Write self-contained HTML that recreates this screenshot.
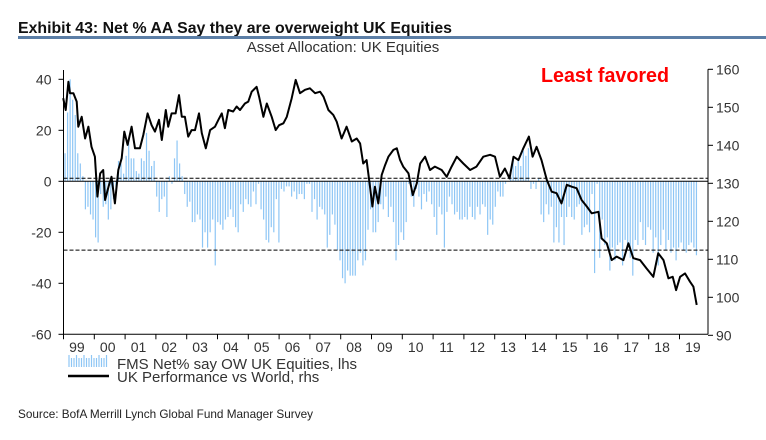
<!DOCTYPE html>
<html><head><meta charset="utf-8"><style>
html,body{margin:0;padding:0;background:#fff;}
svg{display:block;}
text{font-family:"Liberation Sans",sans-serif;}
</style></head><body>
<svg id="chart" width="766" height="440" viewBox="0 0 766 440">
<text x="18" y="33" font-size="16" font-weight="bold" fill="#111" textLength="434" lengthAdjust="spacingAndGlyphs">Exhibit 43: Net % AA Say they are overweight UK Equities</text>
<rect x="18" y="36" width="748" height="3" fill="#5b7ea6"/>
<text x="343" y="52" font-size="15" fill="#333" text-anchor="middle">Asset Allocation: UK Equities</text>
<text x="541" y="82" font-size="20" font-weight="bold" fill="#ff0000" textLength="128" lengthAdjust="spacingAndGlyphs">Least favored</text>
<g id="plot"></g>
<g>
<g>
<g id="legicon"></g>
<text x="117" y="369" font-size="15" fill="#333">FMS Net% say OW UK Equities, lhs</text>
</g>
<g>
<line x1="68" y1="376" x2="109" y2="376" stroke="#000" stroke-width="2.5"/>
<text x="117" y="382" font-size="15" fill="#333">UK Performance vs World, rhs</text>
</g>
</g>
<text x="18" y="418" font-size="12" fill="#222" textLength="295" lengthAdjust="spacingAndGlyphs">Source:  BofA Merrill Lynch Global Fund Manager Survey</text>
</svg>
<script>
const yearLabels=["99","00","01","02","03","04","05","06","07","08","09","10","11","12","13","14","15","16","17","18","19"];
const lhsTicks=[40,20,0,-20,-40,-60];
const rhsTicks=[160,150,140,130,120,110,100,90];
const dashedLevels=[1.2,-27];
const barStart=1999.05, barEnd=2019.55;
const fmsBars=[11,27,40,32,26,11,7,2,-11,-10,-13,-15,-22,-24,-5,-10,-9,-15,-11,-7,-4,8,7,3,10,15,9,9,4,3,9,8,19,12,6,8,-6,-12,-7,-6,-14,2,-1,9,16,7,2,-5,-10,-8,-16,-16,-13,-15,-26,-20,-26,-20,-15,-33,-16,-17,-19,-15,-14,-11,-14,-18,-20,-9,-12,-7,-9,-10,-4,-9,-1,-11,-15,-23,-24,-18,-20,-7,-24,-3,-4,-2,-2,-6,-4,-7,-5,-5,-7,-1,-1,-12,-7,-15,-10,-11,-13,-26,-21,-13,-17,-27,-31,-38,-40,-35,-37,-37,-37,-31,-28,-33,-31,-19,-11,-20,
-20,-16,-9,-11,-6,-14,-10,-16,-31,-25,-20,-23,-16,-1,-6,-10,-3,-6,-11,-5,-8,-4,-9,-14,-21,-10,-13,-26,-12,-6,-9,-13,-12,-15,-15,-14,-15,-10,-14,-15,-10,-13,-9,-10,-21,-15,-17,-10,-4,-6,-6,-1,0,4,9,6,8,6,12,10,13,-3,-1,-3,1,-13,-16,-9,-13,-10,-24,-18,-24,-14,-25,-14,-10,-14,-15,-10,-9,-21,-18,-17,-20,-5,-36,-1,-30,-15,-25,-22,-35,-26,-31,-25,-24,-33,-23,-26,-30,-37,-23,-25,-16,-23,-25,-18,-19,-28,-22,-33,-25,-19,-27,-23,-28,-26,-31,-26,-24,-27,-28,-25,-24,-26,-29];
const perfDates=[1998.99,1999.07,1999.16,1999.21,1999.32,1999.43,1999.48,1999.59,1999.70,1999.81,1999.91,2000.02,2000.10,2000.19,2000.29,2000.35,2000.46,2000.56,2000.67,2000.78,2000.89,2000.975,2001.08,2001.21,2001.32,2001.48,2001.59,2001.73,2001.86,2001.97,2002.10,2002.19,2002.32,2002.40,2002.51,2002.64,2002.75,2002.84,2002.94,2003.05,2003.16,2003.27,2003.40,2003.49,2003.62,2003.76,2003.92,2004.03,2004.14,2004.24,2004.35,2004.51,2004.62,2004.73,2004.89,2005.00,2005.11,2005.27,2005.35,2005.49,2005.60,2005.76,2005.89,2006.00,2006.14,2006.25,2006.41,2006.54,2006.68,2006.84,2007.00,2007.17,2007.33,2007.44,2007.60,2007.76,2007.87,2008.03,2008.19,2008.36,2008.52,2008.63,2008.73,2008.84,2008.95,2009.03,2009.11,2009.22,2009.33,2009.44,
2009.55,2009.71,2009.82,2009.93,2010.03,2010.20,2010.34,2010.47,2010.58,2010.74,2010.90,2011.06,2011.28,2011.44,2011.60,2011.77,2011.98,2012.20,2012.41,2012.63,2012.85,2013.01,2013.17,2013.33,2013.48,2013.61,2013.77,2013.93,2014.11,2014.23,2014.36,2014.52,2014.69,2014.85,2015.01,2015.17,2015.34,2015.50,2015.66,2015.82,2015.99,2016.15,2016.37,2016.47,2016.64,2016.80,2016.96,2017.18,2017.34,2017.50,2017.72,2017.93,2018.15,2018.31,2018.48,2018.64,2018.78,2018.89,2019.02,2019.18,2019.34,2019.45,2019.56];
const perfValues=[152.4,149.3,156.7,153.7,153.7,151.5,144.9,147.5,141.8,144.9,139.6,137,126.5,132.6,133.5,125.6,129.1,131.7,124.7,133.5,136.6,143.6,140.1,144.9,139.2,139.2,142.7,148.4,145.3,143.6,146.7,141.4,149.3,144.9,148.4,148.4,153.2,147.5,147.5,142.3,144.0,144.0,148.4,143.2,139.2,144.0,144.9,146.7,148.4,144.5,149.3,148.9,150.2,149.3,151.0,151.5,154.1,155.4,152.8,147.5,151.0,147.5,144.0,145.3,145.8,147.5,152.4,157.2,153.7,154.6,155,153.7,154.1,152.8,149.3,148,146.2,141.8,144.9,141,141.8,140.5,135.2,136.1,129.1,123.9,129.1,124.7,132.2,134.8,
137,138.8,139.2,136.1,134.4,132.6,126.9,130,135.2,137,133.5,134.4,133.5,131.7,134.4,137,135.2,133.5,134.4,137,137.5,137,131.7,133.9,131.3,137,136.1,139.2,142.3,137,139.6,136.1,130.9,127.8,127.4,124.7,129.6,129.1,128.7,125.6,123.9,122.1,122.5,115.5,114.2,109.8,110.7,109.8,114.2,110.3,109.8,107.6,105.4,111.6,109.8,105,105.4,101.9,105.4,106.3,104.1,102.8,98];

const NS="http://www.w3.org/2000/svg";
const X0=63.5, YW=30.8, XR=708;
const xOf=y=>X0+(y-1999)*YW;
const yL=v=>181.3-v*2.55;
const yR=v=>183.3-(v-130)*3.8;
const plot=document.getElementById('plot');
function mk(tag,attrs,parent){const e=document.createElementNS(NS,tag);for(const k in attrs)e.setAttribute(k,attrs[k]);(parent||plot).appendChild(e);return e;}

const bg=mk('g',{});


fmsBars.forEach((v,i)=>{
  const t=barStart+(barEnd-barStart)*i/(fmsBars.length-1);
  const x=xOf(t);
  const b=mk('line',{x1:x,x2:x,y1:yL(0),y2:yL(v),stroke:'#8ec6f5','stroke-width':1.2},bg);
  
  
});
const z=mk('line',{x1:X0,x2:XR,y1:yL(0),y2:yL(0),stroke:'#000','stroke-width':1});


dashedLevels.forEach(v=>{
  const d=mk('line',{x1:X0,x2:XR,y1:yL(v),y2:yL(v),stroke:'#000','stroke-width':1,'stroke-dasharray':'4,2'});
  
  
});
let pd='';
perfDates.forEach((t,i)=>{pd+=(i?'L':'M')+xOf(t).toFixed(1)+','+yR(perfValues[i]).toFixed(1);});
const pl=mk('path',{d:pd,fill:'none',stroke:'#000','stroke-width':2,'stroke-linejoin':'round'});


const la=mk('line',{x1:X0,x2:X0,y1:70,y2:yL(-60),stroke:'#000','stroke-width':1});


const ra=mk('line',{x1:XR,x2:XR,y1:yR(160),y2:yL(-60),stroke:'#000','stroke-width':1});


const ba=mk('line',{x1:X0,x2:XR,y1:yL(-60),y2:yL(-60),stroke:'#000','stroke-width':1});


lhsTicks.forEach(v=>{
  mk('line',{x1:X0-5,x2:X0,y1:yL(v),y2:yL(v),stroke:'#000'});
  const t=mk('text',{x:X0-12,y:yL(v)+5,'font-size':14,fill:'#333','text-anchor':'end'});
  t.textContent=v;
  
  
});
rhsTicks.forEach(v=>{
  mk('line',{x1:XR,x2:XR+5,y1:yR(v),y2:yR(v),stroke:'#000'});
  const t=mk('text',{x:XR+8,y:yR(v)+5,'font-size':14,fill:'#333'});
  t.textContent=v;
  
  
});
yearLabels.forEach((l,i)=>{
  const x=xOf(1999+i);
  mk('line',{x1:x,x2:x,y1:yL(-60),y2:yL(-60)+5,stroke:'#000'});
  const t=mk('text',{x:x+YW/2-2,y:352,'font-size':14,fill:'#333','text-anchor':'middle'});
  t.textContent=l;
  
  
});
const li=document.getElementById('legicon');
for(let k=0;k<16;k++){
  const x=69+k*2.5;
  const h=(k%3===0)?12:9;
  const e=mk('line',{x1:x,x2:x,y1:367,y2:367-h,stroke:'#8ec6f5','stroke-width':1.2},li);
  
  
}
</script>
</body></html>
